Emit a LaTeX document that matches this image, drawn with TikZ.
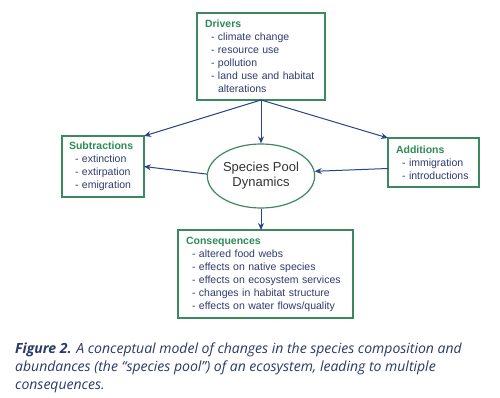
\documentclass[tikz,border=0pt]{standalone}
\usepackage{fontspec}
\setmainfont{Liberation Sans}
\newfontfamily\capfont{Open Sans}
\usetikzlibrary{arrows.meta,shapes.geometric}
\definecolor{boxgreen}{HTML}{3B8A5E}
\definecolor{titlegreen}{HTML}{2E8B57}
\definecolor{itemblue}{HTML}{2F3B6E}
\definecolor{arrowblue}{HTML}{2A4586}
\definecolor{capblue}{HTML}{2A3A6A}
\newcommand{\itm}{\hspace*{6pt}- }
\newcommand{\ttl}[1]{\textbf{\color{titlegreen}#1}}
\begin{document}
\begin{tikzpicture}[x=1pt,y=-1pt,
  box/.style={draw=boxgreen, line width=1.2pt, fill=white, align=left,
    anchor=north west, outer sep=0pt, inner ysep=0pt,
    font=\fontsize{10.5}{13}\selectfont, text=itemblue},
  conn/.style={draw=arrowblue, line width=1pt, -{Stealth[length=7pt,width=6pt]}}]
\useasboundingbox[fill=white] (0,0) rectangle (500,398);

\node[box, inner xsep=8pt, text width=112pt, minimum height=87pt] (drv) at (197,13)
  {\ttl{Drivers}\\\itm climate change\\\itm resource use\\\itm pollution\\\itm land use and habitat\\\hspace*{6pt}\phantom{- }alterations};

\node[box, inner xsep=7pt, text width=68pt, minimum height=61pt] (sub) at (62,136)
  {\ttl{Subtractions}\\\itm extinction\\\itm extirpation\\\itm emigration};

\node[box, inner xsep=8pt, text width=75pt, minimum height=49pt] (add) at (388,138)
  {\ttl{Additions}\\\itm immigration\\\itm introductions};

\node[box, inner xsep=8pt, text width=159pt, minimum height=88pt] (con) at (178,230)
  {\ttl{Consequences}\\\itm altered food webs\\\itm effects on native species\\\itm effects on ecosystem services\\\itm changes in habitat structure\\\itm effects on water flows/quality};

\node[ellipse, draw=boxgreen, line width=1.2pt, fill=white, minimum width=96pt, minimum height=64pt,
  inner sep=0pt, align=center, font=\fontsize{13}{15}\selectfont, text=black!80] (sp) at (261,176)
  {Species Pool\\Dynamics};

\draw[conn] (drv.south) -- (sp.north);
\draw[conn] (drv.south) -- (sub.north east);
\draw[conn] (drv.south) -- (add.north west);
\draw[conn] (sp.178) -- (sub.east);
\draw[conn] ([yshift=-6pt]add.west) -- (sp.5);
\draw[conn] (sp.south) -- (sp.south |- con.north);

\node[anchor=north west, inner sep=0pt, align=left, text=capblue,
  font=\capfont\itshape\fontsize{14}{17.8}\selectfont] (cap) at (15,342.5)
  {\textbf{Figure 2.} A conceptual model of changes in the species composition and\\
   abundances (the “species pool”) of an ecosystem, leading to multiple\\
   consequences.};
\end{tikzpicture}
\end{document}
